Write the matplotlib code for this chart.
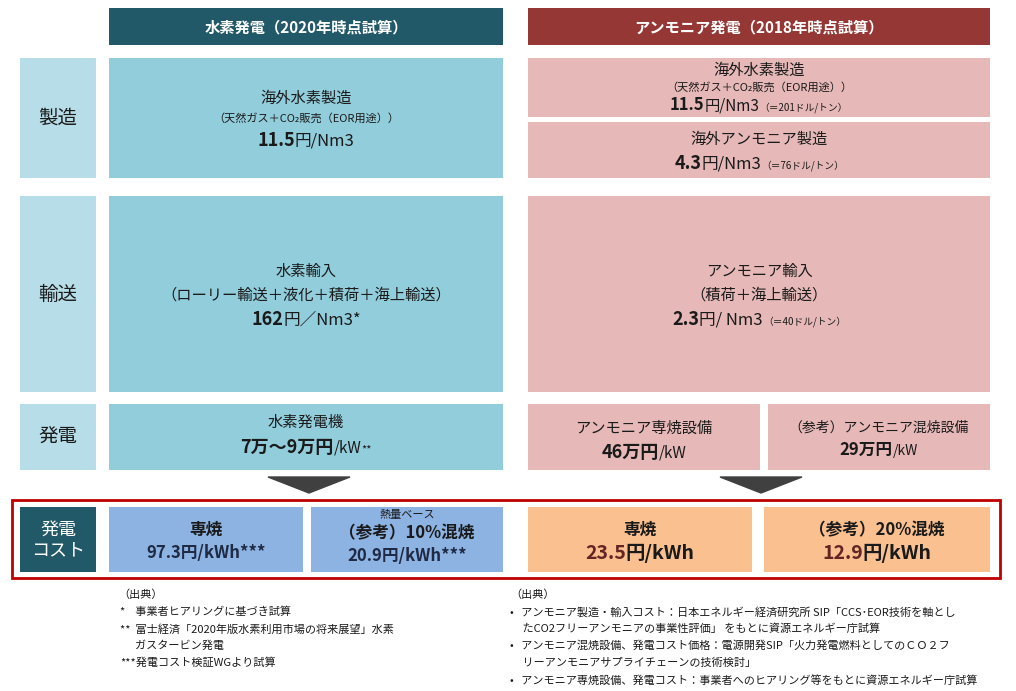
import matplotlib
matplotlib.use("Agg")
import matplotlib.pyplot as plt
from matplotlib.patches import Rectangle, Polygon
from matplotlib.offsetbox import TextArea, HPacker, AnnotationBbox

plt.rcParams['font.family'] = ['Noto Sans CJK JP', 'DejaVu Sans']

# 表の中身
row_labels = ['製造', '輸送', '発電']
headers = ['水素発電（2020年時点試算）', 'アンモニア発電（2018年時点試算）']
cost_label = '発電\nコスト'
notes_left = ['（出典）', '*    事業者ヒアリングに基づき試算',
              '**  富士経済「2020年版水素利用市場の将来展望」水素',
              '      ガスタービン発電', '***発電コスト検証WGより試算']
notes_right = ['（出典）',
               '•   アンモニア製造・輸入コスト：日本エネルギー経済研究所 SIP「CCS･EOR技術を軸とし',
               '     たCO2フリーアンモニアの事業性評価」 をもとに資源エネルギー庁試算',
               '•   アンモニア混焼設備、発電コスト価格：電源開発SIP「火力発電燃料としてのＣＯ２フ',
               '     リーアンモニアサプライチェーンの技術検討」',
               '•   アンモニア専焼設備、発電コスト：事業者へのヒアリング等をもとに資源エネルギー庁試算']

TEAL = '#215968'
DRED = '#953735'
LBL = '#b7dde8'
LC = '#92cddc'
RC = '#e6b9b8'
CB = '#8db3e2'
CO = '#fac090'

fig = plt.figure(figsize=(10.16, 6.91), dpi=100)
ax = fig.add_axes([0, 0, 1, 1])
ax.set_xlim(0, 1016)
ax.set_ylim(691, 0)
ax.axis('off')


def box(x0, x1, y0, y1, color, **kw):
    ax.add_patch(Rectangle((x0, y0), x1 - x0, y1 - y0, facecolor=color, edgecolor='none', **kw))


def line(cx, cy, parts):
    # parts: (text, size, bold, color)
    areas = [TextArea(t, textprops=dict(fontsize=s, fontweight='bold' if b else 'normal',
                                        color=c, family=['Noto Sans CJK JP', 'DejaVu Sans']))
             for t, s, b, c in parts]
    pk = HPacker(children=areas, pad=0, sep=0, align='baseline')
    ax.add_artist(AnnotationBbox(pk, (cx, cy), frameon=False, box_alignment=(0.5, 0.5)))


K = '#1a1a1a'

# ヘッダー
box(109, 503, 8, 45, TEAL)
box(528, 990, 8, 45, DRED)
ax.text(306, 27, headers[0], ha='center', va='center', color='white', fontsize=11, fontweight='bold')
ax.text(759, 27, headers[1], ha='center', va='center', color='white', fontsize=11, fontweight='bold')

# 行ラベル
rows_y = [(58, 178), (196, 392), (404, 470)]
for lab, (y0, y1) in zip(row_labels, rows_y):
    box(20, 96, y0, y1, LBL)
    box(109, 503, y0, y1, LC)
    ax.text(58, (y0 + y1) / 2, lab, ha='center', va='center', fontsize=14, color=K)

# 左: 水素
line(306, 98, [('海外水素製造', 11, False, K)])
line(306, 118, [('（天然ガス＋CO₂販売（EOR用途））', 8, False, K)])
line(306, 140, [('11.5', 13, True, K), ('円/Nm3', 12, False, K)])
line(306, 271, [('水素輸入', 11, False, K)])
line(306, 295, [('（ローリー輸送＋液化＋積荷＋海上輸送）', 11, False, K)])
line(306, 319, [('162', 13, True, K), ('円／Nm3*', 12, False, K)])
line(306, 422, [('水素発電機', 11, False, K)])
line(306, 447, [('7万～9万円', 13, True, K), ('/kW', 11, False, K), ('**', 8, False, K)])

# 右: アンモニア
box(528, 990, 58, 117, RC)
box(528, 990, 122, 178, RC)
box(528, 990, 196, 392, RC)
box(528, 760, 404, 470, RC)
box(768, 990, 404, 470, RC)
line(759, 70, [('海外水素製造', 11, False, K)])
line(759, 87, [('（天然ガス＋CO₂販売（EOR用途））', 8, False, K)])
line(759, 105, [('11.5', 12, True, K), ('円/Nm3', 11, False, K), ('（＝201ドル/トン）', 7, False, K)])
line(759, 139, [('海外アンモニア製造', 11, False, K)])
line(759, 163, [('4.3', 13, True, K), ('円/Nm3', 12, False, K), ('（＝76ドル/トン）', 7, False, K)])
line(759, 271, [('アンモニア輸入', 11, False, K)])
line(759, 295, [('（積荷＋海上輸送）', 11, False, K)])
line(759, 319, [('2.3', 13, True, K), ('円/ Nm3', 12, False, K), ('（＝40ドル/トン）', 7, False, K)])
line(644, 428, [('アンモニア専焼設備', 11, False, K)])
line(644, 452, [('46万円', 13, True, K), ('/kW', 11, False, K)])
line(879, 428, [('（参考）アンモニア混焼設備', 10, False, K)])
line(879, 450, [('29万円', 12, True, K), ('/kW', 10, False, K)])

# 矢印
ax.add_patch(Polygon([(268, 477), (350, 477), (309, 493)], color='#404040'))
ax.add_patch(Polygon([(720, 477), (802, 477), (761, 493)], color='#404040'))

# 発電コスト
ax.add_patch(Rectangle((12, 500), 988, 78, facecolor='none', edgecolor='#c00000', linewidth=2))
box(20, 96, 507, 572, TEAL)
ax.text(58, 540, cost_label, ha='center', va='center', color='white', fontsize=13, linespacing=1.2)
box(109, 303, 507, 572, CB)
box(311, 503, 507, 572, CB)
box(528, 752, 507, 572, CO)
box(764, 990, 507, 572, CO)
NV = '#1f2a44'
line(206, 530, [('専焼', 12, True, K)])
line(206, 553, [('97.3円/kWh***', 12, True, NV)])
line(407, 515, [('熱量ベース', 8, False, K)])
line(407, 533, [('（参考）10%混焼', 12, True, K)])
line(407, 556, [('20.9円/kWh***', 12, True, NV)])
BR = '#632523'
line(640, 530, [('専焼', 12, True, K)])
line(640, 553, [('23.5', 14, True, BR), ('円/kWh', 14, True, K)])
line(877, 530, [('（参考）20%混焼', 12, True, K)])
line(877, 553, [('12.9', 14, True, BR), ('円/kWh', 14, True, K)])

# 出典
for i, t in enumerate(notes_left):
    ax.text(120 if i else 118, 595 + i * 17, t, ha='left', va='center', fontsize=8, color=K)
for i, t in enumerate(notes_right):
    ax.text(510, 595 + i * 17, t, ha='left', va='center', fontsize=8, color=K)

fig.savefig('out.png', dpi=100)
